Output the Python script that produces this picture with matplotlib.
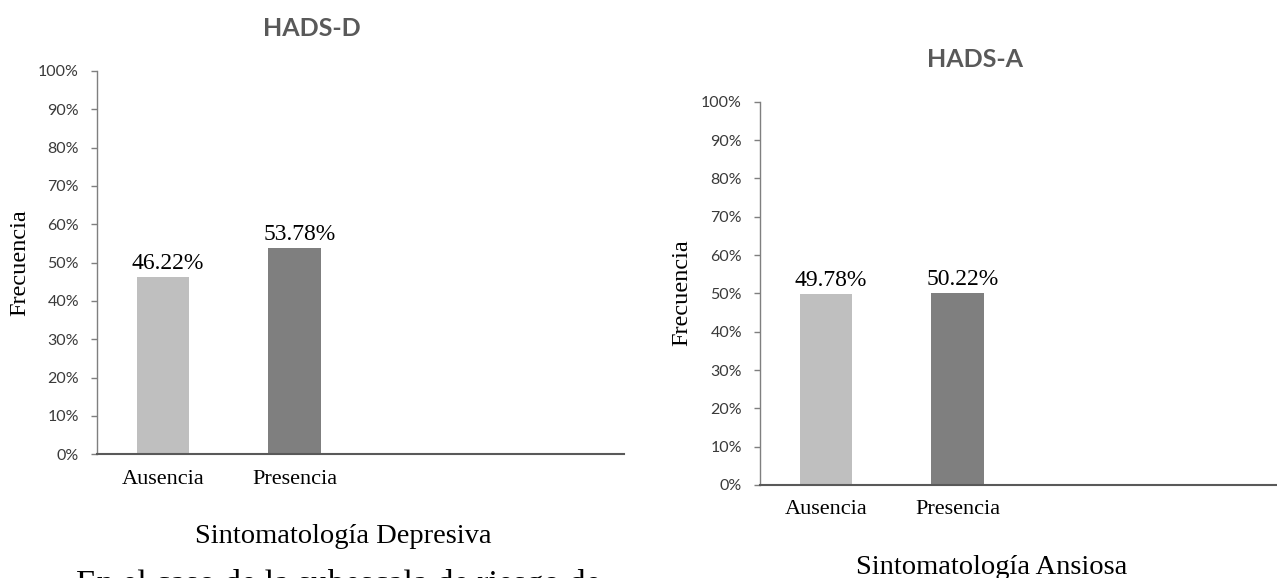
import matplotlib
matplotlib.use("Agg")
import matplotlib.pyplot as plt

# Data
categories = ["Ausencia", "Presencia"]
hads_d = [46.22, 53.78]
hads_a = [49.78, 50.22]
y_ticks = [0, 10, 20, 30, 40, 50, 60, 70, 80, 90, 100]
y_tick_labels = [f"{t}%" for t in y_ticks]
bar_colors = ["#BFBFBF", "#7F7F7F"]

W, H = 1277, 578
fig = plt.figure(figsize=(W / 100, H / 100), dpi=100)
fig.patch.set_facecolor("white")

SERIF = "Liberation Serif"
SANS = "Lato"
TICK_COLOR = "#3A3A3A"
TITLE_COLOR = "#595959"


def px_x(x):
    return x / W


def px_y(y):
    return (H - y) / H


def draw_panel(left_px, zero_px, values, title, title_xy, xlabel, xlabel_xy, ylabel_xy):
    top_px = zero_px - 383.3
    ax = fig.add_axes([px_x(left_px), px_y(zero_px), 527 / W, (zero_px - top_px) / H])
    x = list(range(len(categories)))
    ax.bar(x, values, width=0.4, color=bar_colors, edgecolor="none", zorder=2)
    ax.set_xlim(-0.5, 3.5)
    ax.set_ylim(0, 100)
    ax.set_yticks(y_ticks)
    ax.set_yticklabels(y_tick_labels, fontfamily=SANS, fontsize=11.5, color=TICK_COLOR)
    ax.set_xticks(x)
    ax.set_xticklabels(categories, fontfamily=SERIF, fontsize=16, color="black")
    ax.tick_params(axis="x", length=0, pad=11)
    ax.tick_params(axis="y", length=4, width=1, color="#7F7F7F", pad=9)
    for side in ("top", "right"):
        ax.spines[side].set_visible(False)
    ax.spines["left"].set_color("#7F7F7F")
    ax.spines["left"].set_linewidth(1.0)
    ax.spines["bottom"].set_color("#595959")
    ax.spines["bottom"].set_linewidth(1.5)
    ax.set_facecolor("none")

    for xi, v in zip(x, values):
        ax.annotate(f"{v:.2f}%", xy=(xi, v), xytext=(5, 8), textcoords="offset pixels",
                    ha="center", va="baseline", fontfamily=SERIF, fontsize=17, color="black")

    fig.text(px_x(title_xy[0]), px_y(title_xy[1]), title, ha="center", va="baseline",
             fontfamily=SANS, fontweight="bold", fontsize=18, color=TITLE_COLOR)
    fig.text(px_x(xlabel_xy[0]), px_y(xlabel_xy[1]), xlabel, ha="center", va="baseline",
             fontfamily=SERIF, fontsize=20.5, color="black")
    fig.text(px_x(ylabel_xy[0]), px_y(ylabel_xy[1]), "Frecuencia", ha="center", va="center",
             rotation=90, fontfamily=SERIF, fontsize=17.5, color="black")
    return ax


draw_panel(97, 454.3, hads_d, "HADS-D", (312, 36), "Sintomatología Depresiva", (343, 543), (19.5, 263))
draw_panel(760, 485, hads_a, "HADS-A", (975, 67), "Sintomatología Ansiosa", (992, 574), (682, 293))

# Running paragraph text below the figure (continues on the next line of the page)
fig.text(px_x(76), px_y(592.5), "En el caso de la subescala de riesgo de", ha="left", va="baseline",
         fontfamily=SERIF, fontsize=24.5, color="black")

fig.savefig("out.png", dpi=100, facecolor="white")
